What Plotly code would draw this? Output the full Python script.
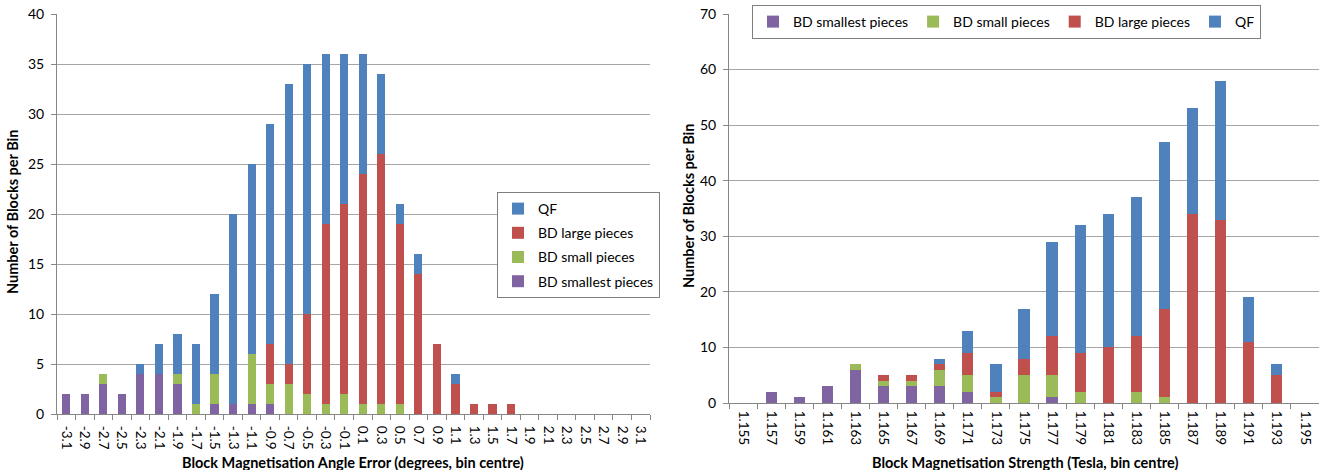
import plotly.graph_objects as go

# ---------------- data ----------------
angle_bins = ["-3.1", "-2.9", "-2.7", "-2.5", "-2.3", "-2.1", "-1.9", "-1.7", "-1.5", "-1.3",
              "-1.1", "-0.9", "-0.7", "-0.5", "-0.3", "-0.1", "0.1", "0.3", "0.5", "0.7",
              "0.9", "1.1", "1.3", "1.5", "1.7", "1.9", "2.1", "2.3", "2.5", "2.7", "2.9", "3.1"]
angle_smallest = [2, 2, 3, 2, 4, 4, 3, 0, 1, 1, 1, 1, 0, 0, 0, 0, 0, 0, 0, 0, 0, 0, 0, 0, 0, 0, 0, 0, 0, 0, 0, 0]
angle_small    = [0, 0, 1, 0, 0, 0, 1, 1, 3, 0, 5, 2, 3, 2, 1, 2, 1, 1, 1, 0, 0, 0, 0, 0, 0, 0, 0, 0, 0, 0, 0, 0]
angle_large    = [0, 0, 0, 0, 0, 0, 0, 0, 0, 0, 0, 4, 2, 8, 18, 19, 23, 25, 18, 14, 7, 3, 1, 1, 1, 0, 0, 0, 0, 0, 0, 0]
angle_qf       = [0, 0, 0, 0, 1, 3, 4, 6, 8, 19, 19, 22, 28, 25, 17, 15, 12, 8, 2, 2, 0, 1, 0, 0, 0, 0, 0, 0, 0, 0, 0, 0]

strength_bins = ["1.155", "1.157", "1.159", "1.161", "1.163", "1.165", "1.167", "1.169", "1.171", "1.173",
                 "1.175", "1.177", "1.179", "1.181", "1.183", "1.185", "1.187", "1.189", "1.191", "1.193", "1.195"]
strength_smallest = [0, 2, 1, 3, 6, 3, 3, 3, 2, 0, 0, 1, 0, 0, 0, 0, 0, 0, 0, 0, 0]
strength_small    = [0, 0, 0, 0, 1, 1, 1, 3, 3, 1, 5, 4, 2, 0, 2, 1, 0, 0, 0, 0, 0]
strength_large    = [0, 0, 0, 0, 0, 1, 1, 1, 4, 1, 3, 7, 7, 10, 10, 16, 34, 33, 11, 5, 0]
strength_qf       = [0, 0, 0, 0, 0, 0, 0, 1, 4, 5, 9, 17, 23, 24, 25, 30, 19, 25, 8, 2, 0]

series_names = ["BD smallest pieces", "BD small pieces", "BD large pieces", "QF"]
colors = ["#8064A2", "#9BBB59", "#C0504D", "#4F81BD"]

FONT = "Lato"
TXT = "#000000"
GRID = "#A6A6A6"
AXIS = "#868686"

fig = go.Figure()

left_vals = [angle_smallest, angle_small, angle_large, angle_qf]
right_vals = [strength_smallest, strength_small, strength_large, strength_qf]

n = len(series_names)
for i, (name, col, vals) in enumerate(zip(series_names, colors, left_vals)):
    fig.add_trace(go.Bar(x=angle_bins, y=vals, name=name, marker=dict(color=col, line=dict(width=0)),
                         width=0.44, xaxis="x", yaxis="y", legend="legend",
                         legendgroup="L%d" % i, legendrank=100 * (n - i)))
for i, (name, col, vals) in enumerate(zip(series_names, colors, right_vals)):
    fig.add_trace(go.Bar(x=strength_bins, y=vals, name=name, marker=dict(color=col, line=dict(width=0)),
                         width=0.40, xaxis="x2", yaxis="y2", legend="legend2", legendrank=100 * (i + 1)))

W, H = 1321, 470

def px_x(p):
    return p / W

def px_y(p):
    return 1 - p / H

xcommon = dict(type="category", tickson="boundaries", ticks="outside", ticklen=5, tickcolor=AXIS,
               showline=True, linecolor=AXIS, linewidth=1, showgrid=False, tickangle=90,
               tickfont=dict(family=FONT, size=13.5, color=TXT), automargin=False)
ycommon = dict(ticks="outside", ticklen=5, tickcolor=AXIS, showline=True, linecolor=AXIS, linewidth=1,
               showgrid=True, gridcolor=GRID, gridwidth=1, zeroline=False, ticklabelstandoff=4,
               tickfont=dict(family=FONT, size=14, color=TXT), automargin=False)

fig.update_layout(
    width=W, height=H,
    margin=dict(l=0, r=0, t=0, b=0),
    paper_bgcolor="white", plot_bgcolor="white",
    barmode="stack",
    font=dict(family=FONT, size=13, color=TXT),
    xaxis=dict(domain=[px_x(57), px_x(650)], anchor="y", range=[-0.5, 31.5], ticklabelstandoff=8, **xcommon),
    yaxis=dict(domain=[px_y(414), px_y(14)], anchor="x", range=[0, 40], dtick=5, **ycommon),
    xaxis2=dict(domain=[px_x(729), px_x(1319)], anchor="y2", range=[-0.5, 20.5], ticklabelstandoff=4, **xcommon),
    yaxis2=dict(domain=[px_y(403), px_y(14)], anchor="x2", range=[0, 70], dtick=10, **ycommon),
    legend=dict(x=px_x(497), y=px_y(192), xanchor="left", yanchor="top", orientation="v",
                traceorder="grouped", bgcolor="white", bordercolor="#7F7F7F", borderwidth=1,
                font=dict(family=FONT, size=14, color=TXT), itemwidth=30, tracegroupgap=3),
    legend2=dict(x=px_x(752), y=px_y(5), xanchor="left", yanchor="top", orientation="h",
                 traceorder="normal", bgcolor="white", bordercolor="#7F7F7F", borderwidth=1,
                 font=dict(family=FONT, size=14, color=TXT), itemwidth=30),
    showlegend=True,
)

annots = [
    dict(text="<b>Number of Blocks per Bin</b>", x=px_x(12), y=px_y(212), textangle=-90,
         font=dict(family=FONT, size=14.5, color=TXT)),
    dict(text="<b>Number of Blocks per Bin</b>", x=px_x(688), y=px_y(206), textangle=-90,
         font=dict(family=FONT, size=14.5, color=TXT)),
    dict(text="<b>Block Magnetisation Angle Error (degrees, bin centre)</b>", x=px_x(353), y=px_y(462),
         font=dict(family=FONT, size=14.5, color=TXT)),
    dict(text="<b>Block Magnetisation Strength (Tesla, bin centre)</b>", x=px_x(1025), y=px_y(462),
         font=dict(family=FONT, size=14.5, color=TXT)),
]
for a in annots:
    fig.add_annotation(xref="paper", yref="paper", showarrow=False, xanchor="center", yanchor="middle", **a)

fig.write_html("out.html")
